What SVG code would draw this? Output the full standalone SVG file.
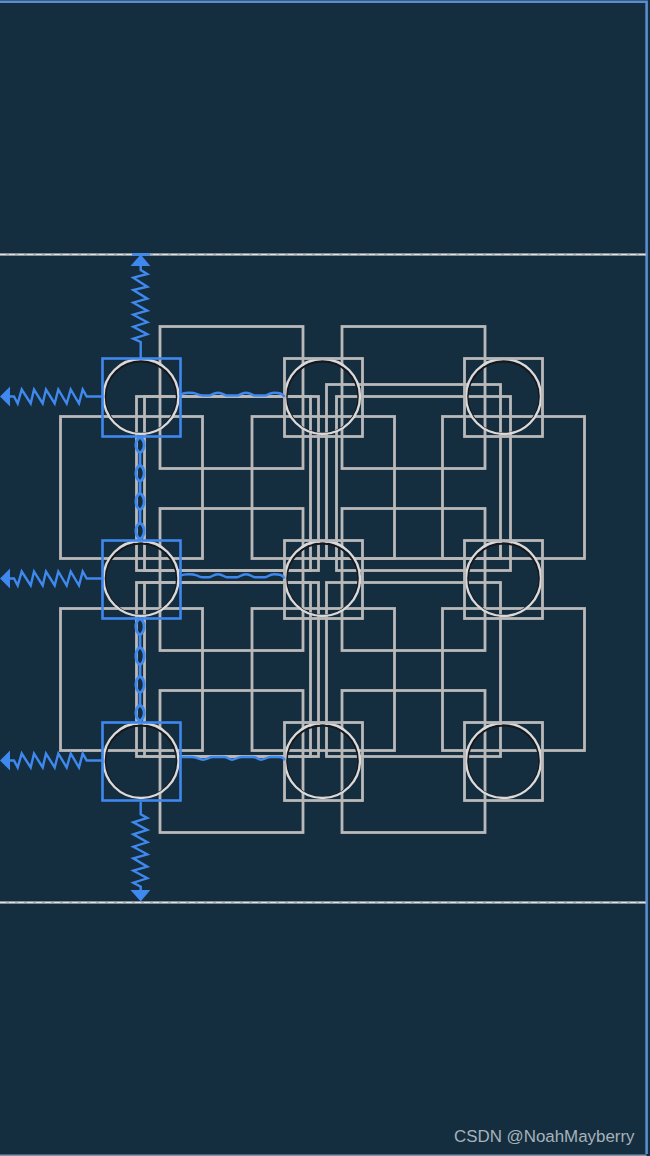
<svg xmlns="http://www.w3.org/2000/svg" width="650" height="1156" viewBox="0 0 650 1156">
<style>
.r{fill:none;stroke:#b9b9b9;stroke-width:2.8}
.c{fill:none;stroke:#dadada;stroke-width:2.4}
.s{fill:none;stroke:#17171c;stroke-width:2.2}
.b{fill:none;stroke:#3f88ee;stroke-width:2.6}
.w{fill:none;stroke:#3f88ee;stroke-width:2.4}
.o{fill:none;stroke:#3f88ee;stroke-width:2.8}
.a{fill:#3f88ee;stroke:none}
.h{fill:none;stroke:#aeb4b8;stroke-width:2.4}
.hd{fill:none;stroke:#e2e2e2;stroke-width:1.2;stroke-dasharray:6 3}
.f{fill:none;stroke:#5b8ccb;stroke-width:2.6}
.fb{fill:none;stroke:#7f97ad;stroke-width:1.6}
.t{font-family:"Liberation Sans",Arial,sans-serif;font-size:16.9px;fill:#a8b2b9}
</style>
<defs>
<g id="cell"><circle class="s" cx="0.5" cy="1" r="36"/><circle class="c" cx="0.5" cy="0" r="37.500"/></g>
</defs>
<rect id="background" x="0" y="0" width="650" height="1156" fill="#142e40"/>
<g id="frame">
<path class="f" d="M-2,1.800H646.600V1154"/>
<path class="fb" d="M-2,1155.200H646.600"/>
<path class="h" d="M0,254.500H646"/><path class="hd" d="M0,254.500H646"/>
<path class="h" d="M0,902.500H646"/><path class="hd" d="M0,902.500H646"/>
</g>
<g id="plate-t1"><rect class="r" x="160" y="326.500" width="143" height="142"/></g>
<g id="plate-t2"><rect class="r" x="342" y="326.500" width="143" height="142"/></g>
<g id="plate-t3"><rect class="r" x="160" y="508.500" width="143" height="142"/></g>
<g id="plate-t4"><rect class="r" x="342" y="508.500" width="143" height="142"/></g>
<g id="plate-t5"><rect class="r" x="160" y="690.500" width="143" height="142"/></g>
<g id="plate-t6"><rect class="r" x="342" y="690.500" width="143" height="142"/></g>
<g id="plate-l1"><rect class="r" x="60.500" y="416.500" width="142" height="142"/></g>
<g id="plate-l2"><rect class="r" x="252" y="416.500" width="142.500" height="142"/></g>
<g id="plate-l3"><rect class="r" x="442.500" y="416.500" width="142" height="142"/></g>
<g id="plate-l4"><rect class="r" x="60.500" y="608.500" width="142" height="142"/></g>
<g id="plate-l5"><rect class="r" x="252" y="608.500" width="142.500" height="142"/></g>
<g id="plate-l6"><rect class="r" x="442.500" y="608.500" width="142" height="142"/></g>
<g id="inner-1"><rect class="r" x="136.500" y="396.500" width="182" height="174"/></g>
<g id="inner-2"><rect class="r" x="144.500" y="396.500" width="166" height="174"/></g>
<g id="inner-3"><rect class="r" x="326.500" y="384.500" width="174" height="174"/></g>
<g id="inner-4"><rect class="r" x="336.500" y="396.500" width="174" height="174"/></g>
<g id="inner-5"><rect class="r" x="136.500" y="582.500" width="182" height="174"/></g>
<g id="inner-6"><rect class="r" x="144.500" y="582.500" width="166" height="174"/></g>
<g id="inner-7"><rect class="r" x="326.500" y="582.500" width="174" height="174"/></g>
<g id="node-1-1"><use href="#cell" x="140.500" y="396.500"/><rect class="b" x="102.500" y="358.500" width="78" height="78"/></g>
<g id="node-1-2"><use href="#cell" x="322" y="396.500"/><rect class="r" x="284.500" y="358.500" width="78" height="78"/></g>
<g id="node-1-3"><use href="#cell" x="503" y="396.500"/><rect class="r" x="464.500" y="358.500" width="78" height="78"/></g>
<g id="node-2-1"><use href="#cell" x="140.500" y="578.500"/><rect class="b" x="102.500" y="540.500" width="78" height="78"/></g>
<g id="node-2-2"><use href="#cell" x="322" y="578.500"/><rect class="r" x="284.500" y="540.500" width="78" height="78"/></g>
<g id="node-2-3"><use href="#cell" x="503" y="578.500"/><rect class="r" x="464.500" y="540.500" width="78" height="78"/></g>
<g id="node-3-1"><use href="#cell" x="140.500" y="760.500"/><rect class="b" x="102.500" y="722.500" width="78" height="78"/></g>
<g id="node-3-2"><use href="#cell" x="322" y="760.500"/><rect class="r" x="284.500" y="722.500" width="78" height="78"/></g>
<g id="node-3-3"><use href="#cell" x="503" y="760.500"/><rect class="r" x="464.500" y="722.500" width="78" height="78"/></g>
<g id="connectors">
<path class="w" d="M140.700,358V342L133.300,338.700L147.300,334.300L133.300,326.700L147.300,322.300L133.300,314.700L147.300,310.700L133.300,302.700L147.300,298.700L133.300,290L147.300,286.700L133.300,277.700L147.300,274L140.700,270V262"/>
<path class="a" d="M140.700,254.500L150.300,266H130.500Z"/>
<path class="b" d="M132,254.500H150"/>
<path class="w" d="M140.700,802V814.300L147.300,818L133.300,822.300L147.300,830L133.300,834.300L147.300,842.300L133.300,846.700L147.300,854.300L133.300,858.300L147.300,866.700L133.300,870.700L147.300,878.300L133.300,882.700L140.700,886.700V894"/>
<path class="a" d="M130.500,890H150.300L140.700,901.500Z"/>
<path class="w" id="leak-1" d="M102,396.500H86.700L82.700,389.500L79,403.500L70.700,389.500L66.700,403.500L58.300,389.500L54.700,403.500L46,389.500L42.700,403.500L34,389.500L30.700,403.500L21.700,389.500L17.700,403.500L14,396.500H6"/>
<path class="a" d="M0,396.500L10,386.500V406.500Z"/>
<path class="w" id="leak-2" d="M102,578.500H86.700L82.700,571.500L79,585.500L70.700,571.500L66.700,585.500L58.300,571.500L54.700,585.500L46,571.500L42.700,585.500L34,571.500L30.700,585.500L21.700,571.500L17.700,585.500L14,578.500H6"/>
<path class="a" d="M0,578.500L10,568.500V588.500Z"/>
<path class="w" id="leak-3" d="M102,760.500H86.700L82.700,753.500L79,767.500L70.700,753.500L66.700,767.500L58.300,753.500L54.700,767.500L46,753.500L42.700,767.500L34,753.500L30.700,767.500L21.700,753.500L17.700,767.500L14,760.500H6"/>
<path class="a" d="M0,760.500L10,750.500V770.500Z"/>
<path class="w" id="wave-1" d="M181,394.500C184,392.500 192,392 197,394Q200,395.500 203,395.500H209C212,395.500 213,392.700 218,392.700S224,395.500 227,395.500H237C240,395.500 241,392.700 246,392.700S252,395.500 255,395.500H265C268,395.500 269,392.700 274,392.700S283,393 284.500,397"/>
<path class="w" id="wave-2" d="M181,575.500C184,574 192,573.500 197,575.500Q200,577.300 203,577.300H209C212,577.300 213,574.300 218,574.300S224,577.300 227,577.300H237C240,577.300 241,574.300 246,574.300S252,577.300 255,577.300H265C268,577.300 269,574.300 274,574.300S283,574.500 284.500,578.500"/>
<path class="w" id="wave-3" d="M181,757H192C197,757 199,759.700 203,759.700S209,757 213,757H224C228,757 229,759.700 232,759.700S238,757 242,757H253C257,757 258,759.700 261,759.700S267,757 271,757H279C282,757 284,757.500 284.500,760.500"/>
<path class="o" id="couple-1" d="M140,437C134.500,441 134.500,449 140,453C145.500,449 145.500,441 140,437ZM140,453V465M140,465C134.500,469 134.500,477.500 140,481.700C145.500,477.500 145.500,469 140,465ZM140,481.700V493M140,493C134.500,497 134.500,506 140,510C145.500,506 145.500,497 140,493ZM140,510V522.700M140,522.700C134.500,527 134.500,535 140,539.300C145.500,535 145.500,527 140,522.700Z"/>
<path class="o" id="couple-2" d="M140,618.500C134.500,622 134.500,631 140,635C145.500,631 145.500,622 140,618.500ZM140,635V647M140,647C134.500,651 134.500,661 140,665C145.500,661 145.500,651 140,647ZM140,665V676M140,676C134.500,680 134.500,689 140,693C145.500,689 145.500,680 140,676ZM140,693V705M140,705C134.500,709 134.500,717 140,721C145.500,717 145.500,709 140,705Z"/>
</g>
<text class="t" x="454" y="1142">CSDN @NoahMayberry</text>
</svg>
